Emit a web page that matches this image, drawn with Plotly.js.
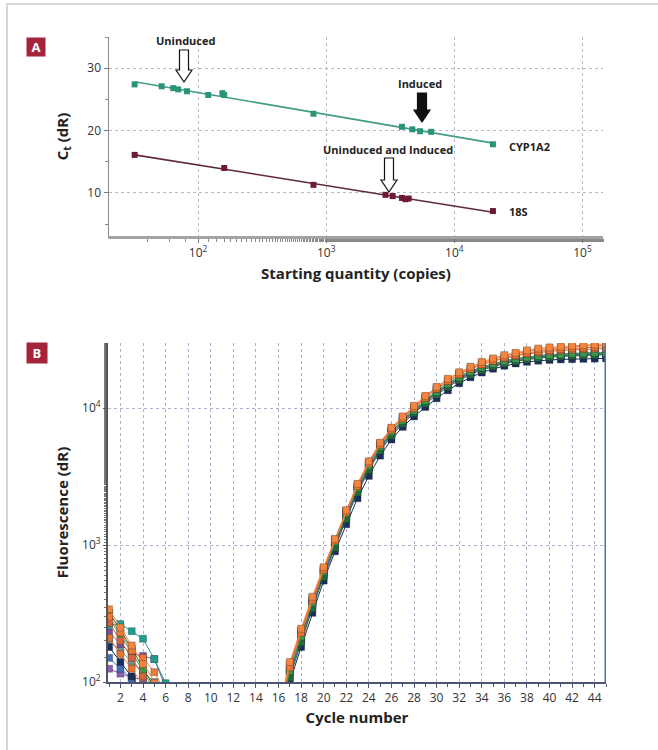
<!DOCTYPE html>
<html><head><meta charset="utf-8">
<script src="https://cdn.plot.ly/plotly-3.0.1.min.js"></script>
<style>html,body{margin:0;padding:0;background:#fff}#chart{width:658px;height:750px}</style>
</head><body><div id="chart"></div>
<script>
// ---------- Panel A: standard curves ----------
const cypQty = [32, 52, 64, 70, 82, 120, 155, 160, 795, 3900, 4700, 5400, 6600, 20000];
const cypCt  = [27.4, 27.1, 26.8, 26.6, 26.3, 25.7, 26.0, 25.7, 22.7, 20.6, 20.2, 19.9, 19.8, 17.8];
const s18Qty = [32, 160, 795, 2900, 3300, 3900, 4150, 4400, 20000];
const s18Ct  = [16.1, 14.0, 11.3, 9.7, 9.5, 9.2, 9.0, 9.1, 7.1];
const qtyTickVals = [100, 1000, 10000, 100000];
const qtyTickText = ['10<sup>2</sup>', '10<sup>3</sup>', '10<sup>4</sup>', '10<sup>5</sup>'];
const ctTickVals = [10, 20, 30];
const seriesNamesA = ['CYP1A2', '18S'];

// ---------- Panel B: amplification plots ----------
const cycles = [1,2,3,4,5,6,7,8,9,10,11,12,13,14,15,16,17,18,19,20,21,22,23,24,25,26,27,28,29,30,31,32,33,34,35,36,37,38,39,40,41,42,43,44,45];
const ampOrange1 = [340,250,185,135,98,72,55,45,38,33,30,28,27,28,35,62,140,245,420,690,1110,1800,2800,4100,5600,7200,8700,10400,12300,14300,16400,18300,20100,21800,23100,24400,25400,26500,27300,27800,28200,28600,28900,29200,29400];
const ampOrange2 = [210,160,125,95,72,55,42,36,32,30,28,27,26,27,33,58,128,228,395,660,1080,1740,2700,3950,5400,6950,8400,10000,11900,13900,15800,17700,19400,20900,22200,23400,24400,25300,26000,26600,27000,27400,27700,27900,28100];
const ampGreen   = [290,220,165,120,88,64,50,42,36,32,29,27,26,27,32,55,120,215,380,640,1050,1700,2620,3800,5200,6700,8100,9600,11300,13100,15000,16800,18400,19800,21000,22000,22800,23500,24000,24400,24700,25000,25200,25400,25500];
const ampTeal    = [260,265,235,207,147,98,70,52,42,36,32,30,28,29,34,57,125,222,390,650,1060,1710,2650,3850,5250,6750,8200,9700,11500,13300,15200,17000,18600,20000,21200,22200,23000,23700,24200,24600,24900,25100,25300,25400,25500];
const ampNavy    = [180,140,110,85,64,50,40,34,30,28,26,25,24,25,29,48,100,180,320,550,900,1420,2200,3200,4500,5900,7300,8700,10200,11800,13500,15200,16800,18200,19400,20400,21200,21800,22200,22500,22700,22800,22900,23000,23100];
const ampPurple  = [230,190,160,155,147,92,62,48,40,35,31,29,27,28,33,54,118,210,370,620,1010,1640,2550,3700,5100,6550,8000,9500,11200,13000,14800,16600,18200,19600,20800,21800,22600,23300,23800,24200,24500,24700,24900,25000,25100];
const ampDkGreen = [320,240,175,125,90,66,50,42,36,32,29,27,26,27,31,52,108,195,345,585,955,1550,2420,3520,4880,6300,7700,9200,10800,12500,14300,16000,17600,19000,20200,21200,22000,22700,23200,23600,23900,24100,24300,24400,24500];
const ampBlue    = [150,125,105,88,70,54,43,37,33,30,28,26,25,26,30,50,115,205,365,615,1000,1620,2520,3650,5050,6500,7950,9450,11100,12900,14700,16500,18100,19500,20700,21700,22500,23200,23700,24100,24400,24600,24800,24900,25000];
const ampCoral   = [270,200,150,110,80,60,46,39,34,31,29,27,26,27,32,56,130,232,405,670,1090,1770,2750,4000,5450,7000,8500,10100,11900,13800,15700,17600,19300,20800,22100,23200,24100,24900,25500,26000,26400,26700,27000,27200,27300];
const ampSlate   = [200,170,140,118,100,80,58,46,39,34,31,29,27,28,33,55,122,218,385,645,1050,1700,2640,3830,5230,6730,8180,9700,11450,13250,15150,16950,18550,19950,21150,22150,22950,23650,24150,24550,24850,25050,25250,25350,25450];
const ampOrange3 = [300,230,170,150,118,85,60,47,40,35,31,29,27,28,34,60,135,238,410,680,1100,1780,2780,4050,5550,7150,8650,10300,12200,14200,16200,18100,19900,21500,22800,24000,25000,25900,26700,27300,27700,28100,28400,28700,28900];
const ampViolet  = [125,115,108,104,90,66,50,42,36,32,29,27,26,27,31,52,112,202,360,605,990,1600,2500,3620,5000,6450,7900,9400,11050,12800,14600,16300,17900,19300,20500,21500,22300,23000,23500,23900,24200,24400,24600,24700,24800];
const cycleTickVals = [2,4,6,8,10,12,14,16,18,20,22,24,26,28,30,32,34,36,38,40,42,44];
const fluorTickVals = [100, 1000, 10000];
const fluorTickText = ['10<sup>2</sup>', '10<sup>3</sup>', '10<sup>4</sup>'];
const THRESHOLD = 1000;
const LAST_CYCLE = 45;

// ---------- styling ----------
const W = 658, H = 750;
const px = v => v / W, py = v => 1 - v / H;
const FONT = '"Open Sans", "Noto Sans", sans-serif';
const cypColor = '#2a9478', cypLine = '#3f9c86';
const s18Color = '#6e1a36', s18Line = '#5e2a38';
const ampSeries = [
  [ampViolet, '#8a5fb0'], [ampSlate, '#6f8f8a'], [ampBlue, '#3f6fb5'], [ampPurple, '#7b4fa0'],
  [ampNavy, '#1b2d5a'], [ampDkGreen, '#26673c'], [ampTeal, '#1f9e8e'], [ampGreen, '#3a9a4a'],
  [ampCoral, '#d9623a'], [ampOrange3, '#ee7a34'], [ampOrange2, '#e8742c'], [ampOrange1, '#f4843e']
];

function fitLine(q, c) {
  const lx = q.map(Math.log10);
  const n = lx.length;
  const mx = lx.reduce((a, b) => a + b, 0) / n, my = c.reduce((a, b) => a + b, 0) / n;
  let sxy = 0, sxx = 0;
  for (let i = 0; i < n; i++) { sxy += (lx[i] - mx) * (c[i] - my); sxx += (lx[i] - mx) ** 2; }
  const b = sxy / sxx, a = my - b * mx;
  const qmin = Math.min(...q), qmax = Math.max(...q);
  return { x: [qmin, qmax], y: [a + b * Math.log10(qmin), a + b * Math.log10(qmax)] };
}

const fc = fitLine(cypQty, cypCt), fs = fitLine(s18Qty, s18Ct);
const traces = [
  { x: fc.x, y: fc.y, mode: 'lines', line: { color: cypLine, width: 1.6 }, xaxis: 'x', yaxis: 'y', hoverinfo: 'skip' },
  { x: fs.x, y: fs.y, mode: 'lines', line: { color: s18Line, width: 1.6 }, xaxis: 'x', yaxis: 'y', hoverinfo: 'skip' },
  { x: cypQty, y: cypCt, name: seriesNamesA[0], mode: 'markers', marker: { symbol: 'square', size: 6, color: cypColor }, xaxis: 'x', yaxis: 'y' },
  { x: s18Qty, y: s18Ct, name: seriesNamesA[1], mode: 'markers', marker: { symbol: 'square', size: 6, color: s18Color }, xaxis: 'x', yaxis: 'y' }
];
ampSeries.forEach(([vals, col]) => {
  traces.push({ x: cycles, y: vals, mode: 'lines+markers', xaxis: 'x2', yaxis: 'y2',
    line: { color: col, width: 1 },
    marker: { symbol: 'square', size: 7, color: col, line: { color: 'rgba(20,30,40,0.45)', width: 0.6 } } });
});

const tickFont = { family: FONT, size: 12, color: '#333' };
const titleFont = { family: FONT, size: 15, color: '#222', weight: 'bold' };
const gridA = '#b4bac8', gridB = '#a9b3c9';

function blockArrow(xTip, yTip, len, fill) {
  const p = `M 0 0 L -8 12 L -4.5 12 L -4.5 ${len} L 4.5 ${len} L 4.5 12 L 8 12 Z`;
  return { type: 'path', xref: 'paper', yref: 'paper', xsizemode: 'pixel', ysizemode: 'pixel',
    xanchor: px(xTip), yanchor: py(yTip), path: p, fillcolor: fill, line: { color: '#111', width: 1.2 } };
}

const labelFont = { family: FONT, size: 11, color: '#222', weight: 'bold' };
function label(text, x, y, xanchor) {
  return { text, xref: 'paper', yref: 'paper', x: px(x), y: py(y), xanchor: xanchor || 'center', yanchor: 'middle',
    showarrow: false, font: labelFont };
}
const layout = {
  width: W, height: H, margin: { l: 0, r: 0, t: 0, b: 0 },
  paper_bgcolor: '#fff', plot_bgcolor: '#fff', showlegend: false,
  xaxis: {
    domain: [px(109), px(603)], anchor: 'y', type: 'log', range: [1.305, 5.16],
    tickvals: qtyTickVals, ticktext: qtyTickText, tickfont: tickFont,
    showgrid: true, gridcolor: gridA, griddash: 'dot', gridwidth: 1,
    showline: true, linecolor: '#a3a3a3', linewidth: 3, ticks: 'outside', ticklen: 4, tickcolor: '#777',
    minor: { ticks: 'outside', ticklen: 3, tickcolor: '#888', showgrid: false },
    zeroline: false,
    title: { text: 'Starting quantity (copies)', font: titleFont, standoff: 9 }
  },
  yaxis: {
    domain: [py(236), py(37)], anchor: 'x', range: [3.1, 35],
    tickvals: ctTickVals, tickfont: tickFont,
    showgrid: true, gridcolor: gridA, griddash: 'dot', gridwidth: 1,
    showline: true, linecolor: '#8a8a8a', linewidth: 1.5, ticks: 'outside', ticklen: 4, tickcolor: '#777',
    minor: { dtick: 5, ticks: 'outside', ticklen: 3, tickcolor: '#888', showgrid: false },
    zeroline: false,
    title: { text: 'C<sub>t</sub> (dR)', font: titleFont, standoff: 15 }
  },
  xaxis2: {
    domain: [px(108), px(606)], anchor: 'y2', range: [0.9, 45],
    tickvals: cycleTickVals, tickfont: tickFont,
    showgrid: true, gridcolor: gridB, griddash: 'dot', gridwidth: 1,
    showline: true, linecolor: '#4c5570', linewidth: 2, ticks: 'outside', ticklen: 4, tickcolor: '#4c5570',
    minor: { dtick: 1, ticks: 'outside', ticklen: 3, tickcolor: '#4c5570', showgrid: false },
    zeroline: false,
    title: { text: 'Cycle number', font: titleFont, standoff: 7 }
  },
  yaxis2: {
    domain: [py(682), py(343)], anchor: 'x2', type: 'log', range: [2, 4.476],
    tickvals: fluorTickVals, ticktext: fluorTickText, tickfont: tickFont,
    showgrid: true, gridcolor: gridB, griddash: 'dot', gridwidth: 1,
    showline: true, linecolor: '#555', linewidth: 2, ticks: 'outside', ticklen: 3, tickcolor: '#555',
    minor: { ticks: 'outside', ticklen: 2, tickcolor: '#777', showgrid: false },
    zeroline: false,
    title: { text: 'Fluorescence (dR)', font: titleFont, standoff: 10 }
  },
  shapes: [
    { type: 'rect', xref: 'paper', yref: 'paper', x0: px(7), x1: 1.02, y0: -0.02, y1: py(4),
      line: { color: '#c9c9c9', width: 1.5 }, fillcolor: 'rgba(0,0,0,0)', layer: 'below' },
    { type: 'line', xref: 'x2 domain', yref: 'y2', x0: 0, x1: 1, y0: Math.log10(THRESHOLD), y1: Math.log10(THRESHOLD),
      line: { color: '#3d5a99', width: 2 } },
    { type: 'line', xref: 'x2', yref: 'y2 domain', x0: LAST_CYCLE, x1: LAST_CYCLE, y0: 0, y1: 1,
      line: { color: '#4a74aa', width: 3 } },
    blockArrow(184, 82, 32, '#fff'),
    blockArrow(422, 122, 29, '#111'),
    blockArrow(389, 192, 34, '#fff')
  ],
  annotations: [
    { text: 'A', xref: 'paper', yref: 'paper', x: px(36), y: py(47), xanchor: 'center', yanchor: 'middle', showarrow: false,
      font: { family: FONT, size: 13, color: '#fff', weight: 'bold' }, bgcolor: '#a3243b', width: 14, height: 14, borderpad: 2 },
    { text: 'B', xref: 'paper', yref: 'paper', x: px(37), y: py(353), xanchor: 'center', yanchor: 'middle', showarrow: false,
      font: { family: FONT, size: 13, color: '#fff', weight: 'bold' }, bgcolor: '#a3243b', width: 16, height: 16, borderpad: 2 },
    label('Uninduced', 185, 41),
    label('Induced', 420, 83),
    label('Uninduced and Induced', 388, 149),
    label(seriesNamesA[0], 507, 146, 'left'),
    label(seriesNamesA[1], 507, 211, 'left')
  ]
};

Plotly.newPlot('chart', traces, layout, { staticPlot: true, displayModeBar: false });
</script>
</body></html>
